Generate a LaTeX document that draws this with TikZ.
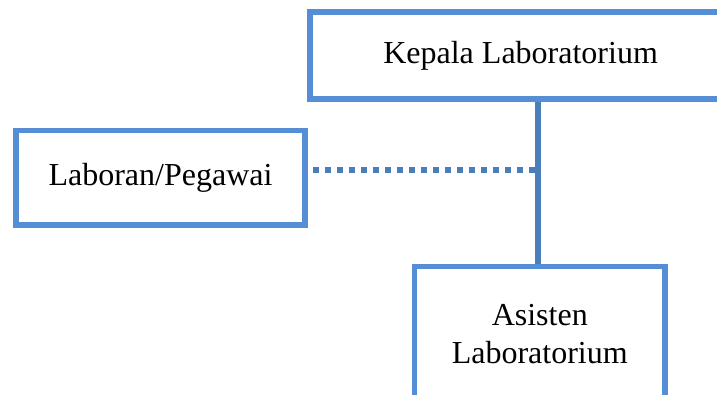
\documentclass[tikz,border=0pt]{standalone}
\usepackage{fontspec}
\setmainfont{Liberation Serif}
\definecolor{boxblue}{RGB}{85,142,213}
\definecolor{lineblue}{RGB}{74,126,187}

\begin{document}
\begin{tikzpicture}[x=1pt, y=1pt,
    unit/.style={draw=boxblue, line width=5.5pt, fill=white, align=center,
      inner sep=0pt, font=\fontsize{32}{38}\selectfont},
    link/.style={draw=lineblue, line width=6pt},
    staff/.style={draw=lineblue, line width=6pt, dash pattern=on 6pt off 6pt}]
  \useasboundingbox (0,0) rectangle (717,-395);
  \node[unit, minimum width=421pt, minimum height=87pt] (kepala) at (520.6,-55.5) {Kepala Laboratorium};
  \node[unit, minimum width=289pt, minimum height=94.5pt] (laboran) at (160.5,-178) {Laboran/Pegawai};
  \node[unit, minimum width=250.5pt, minimum height=135pt] (asisten) at (539.75,-334) {Asisten\\Laboratorium};
  \coordinate (junction) at (537.5,-169.7);
  \draw[link] (junction |- kepala.south) -- (junction |- asisten.north);
  \draw[staff, shorten <=5pt] (laboran.east |- junction) -- (junction);
\end{tikzpicture}
\end{document}
